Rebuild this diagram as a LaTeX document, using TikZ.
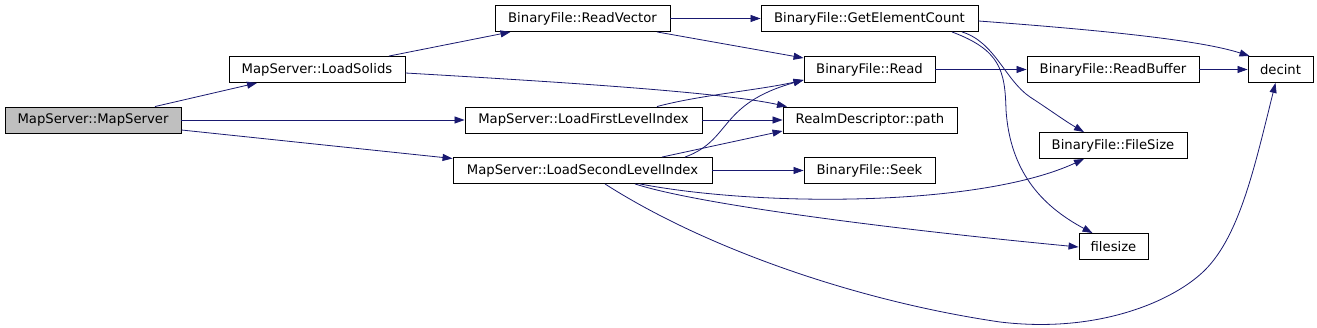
\documentclass[tikz,border=0pt]{standalone}
\usepackage{fontspec}
\setmainfont{DejaVu Sans}
\usetikzlibrary{arrows.meta}
\definecolor{edgecol}{HTML}{191970}
\definecolor{rootfill}{HTML}{BFBFBF}
\begin{document}
\begin{tikzpicture}[x=1pt,y=-1pt,
  fn/.style={draw=black,line width=0.9pt,minimum height=26pt,inner sep=0pt,
    font=\fontsize{13.2}{15}\selectfont,fill=white},
  call/.style={draw=edgecol,line width=0.8pt,
    -{Triangle[length=10pt,width=7pt,fill=edgecol]}}]
\useasboundingbox[fill=white] (0,0) rectangle (1317,328);

\node[fn,fill=rootfill,minimum width=176pt] (ms) at (93,120) {MapServer::MapServer};
\node[fn,minimum width=176pt] (ls) at (317,69.5) {MapServer::LoadSolids};
\node[fn,minimum width=175pt] (rv) at (582.5,18.5) {BinaryFile::ReadVector};
\node[fn,minimum width=217pt] (gec) at (869.5,18.5) {BinaryFile::GetElementCount};
\node[fn,minimum width=131pt] (rd) at (869.5,69.5) {BinaryFile::Read};
\node[fn,minimum width=174pt] (pa) at (870,120) {RealmDescriptor::path};
\node[fn,minimum width=237pt] (lfl) at (583.5,120) {MapServer::LoadFirstLevelIndex};
\node[fn,minimum width=259pt] (lsl) at (582.5,170.5) {MapServer::LoadSecondLevelIndex};
\node[fn,minimum width=131pt] (sk) at (869.5,170.5) {BinaryFile::Seek};
\node[fn,minimum width=172pt] (rb) at (1113,69.5) {BinaryFile::ReadBuffer};
\node[fn,minimum width=65pt] (dec) at (1280.5,69.5) {decint};
\node[fn,minimum width=148pt] (fs) at (1113,145.5) {BinaryFile::FileSize};
\node[fn,minimum width=69pt] (fsz) at (1113.5,246.5) {filesize};

% MapServer
\draw[call] ([xshift=62pt]ms.north) -- ([xshift=-60pt]ls.south);
\draw[call] (ms.east) -- (lfl.west);
\draw[call] ([yshift=-10pt]ms.east) -- ([yshift=12pt]lsl.west);
% LoadSolids
\draw[call] ([xshift=72pt]ls.north) -- ([xshift=-72pt]rv.south);
\draw[call] ([yshift=-3.5pt]ls.east) .. controls (560,82) and (720,92) .. ([xshift=-83pt]pa.north);
% ReadVector
\draw[call] (rv.east) -- (gec.west);
\draw[call] ([xshift=74.5pt]rv.south) -- ([yshift=11.5pt]rd.west);
% GetElementCount
\draw[call] ([yshift=-2.5pt]gec.east) .. controls (1100,30) and (1200,40) .. ([xshift=2pt]dec.north west);
\draw[call] ([xshift=92.5pt]gec.south) .. controls (995,42) and (1005,80) .. (1030,97)
  .. controls (1050,110) and (1065,121) .. ([xshift=-29pt]fs.north);
\draw[call] ([xshift=82.5pt]gec.south) .. controls (1000,50) and (1005,70) .. (1006,110)
  .. controls (1010,170) and (1040,205) .. ([xshift=-21pt]fsz.north);
% Read / ReadBuffer
\draw[call] (rd.east) -- (rb.west);
\draw[call] (rb.east) -- (dec.west);
% LoadFirstLevelIndex
\draw[call] ([xshift=73.5pt]lfl.north) .. controls (700,95) and (760,90) .. ([yshift=-10.5pt]rd.west);
\draw[call] (lfl.east) -- (pa.west);
% LoadSecondLevelIndex
\draw[call] ([xshift=79.5pt]lsl.north) -- ([yshift=-11pt]pa.west);
\draw[call] ([xshift=102.5pt]lsl.north) .. controls (732,140) and (718,104) .. ([yshift=-10.5pt]rd.west);
\draw[call] (lsl.east) -- (sk.west);
\draw[call] ([xshift=57.5pt]lsl.south) .. controls (760,207) and (980,207) .. ([xshift=-29pt]fs.south);
\draw[call] ([xshift=52.5pt]lsl.south) .. controls (700,205) and (900,230) .. ([yshift=-0.5pt]fsz.west);
\draw[call] ([xshift=22.5pt]lsl.south) .. controls (700,245) and (850,300) .. (1000,322)
  .. controls (1100,334) and (1175,300) .. (1205,270)
  .. controls (1240,235) and (1255,165) .. ([xshift=-5pt]dec.south);
\end{tikzpicture}
\end{document}
